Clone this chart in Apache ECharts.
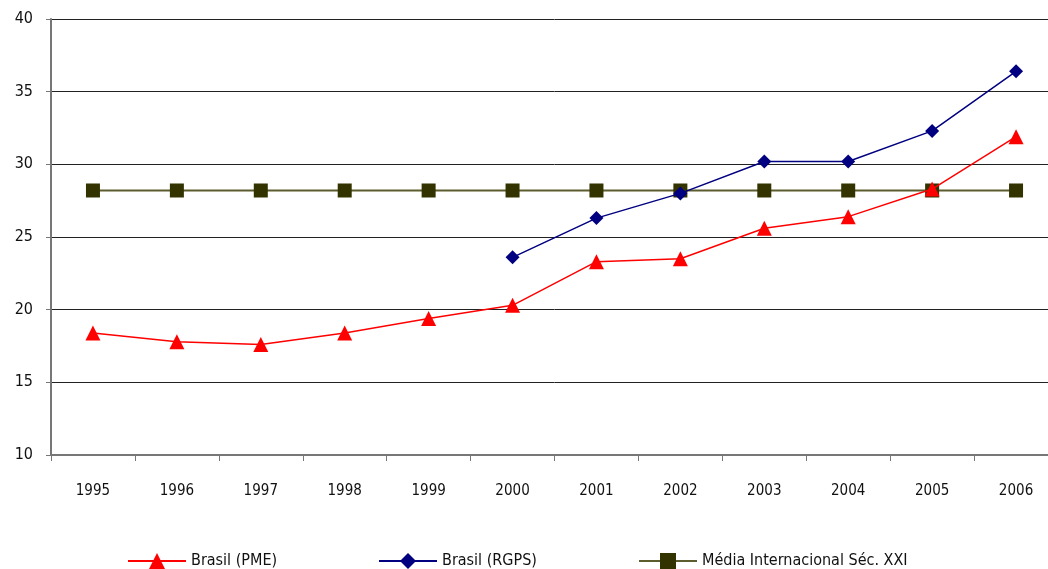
<!DOCTYPE html>
<html>
<head>
<meta charset="utf-8">
<script src="https://cdn.jsdelivr.net/npm/echarts@6/dist/echarts.min.js"></script>
<style>
  html, body { margin: 0; padding: 0; background: #fff; overflow: hidden; }
  /* plot area runs a little past the right edge, as in the original */
  #chart { width: 1058px; height: 569px; }
</style>
</head>
<body>
<div id="chart"></div>
<script>
// anos
const years = ['1995', '1996', '1997', '1998', '1999', '2000', '2001', '2002', '2003', '2004', '2005', '2006'];
// series
const pme = [18.4, 17.8, 17.6, 18.4, 19.4, 20.3, 23.3, 23.5, 25.6, 26.4, 28.3, 31.9];
const rgps = [null, null, null, null, null, 23.6, 26.3, 28.0, 30.2, 30.2, 32.3, 36.4];
const mediaIntl = [28.2, 28.2, 28.2, 28.2, 28.2, 28.2, 28.2, 28.2, 28.2, 28.2, 28.2, 28.2];
const names = ['Brasil (PME)', 'Brasil (RGPS)', 'Média Internacional Séc. XXI'];

const font = 'DejaVu Sans Condensed';
let chart = echarts.init(document.getElementById('chart'));

function legendAt(name, left) {
  return {
    data: [name],
    left: left,
    top: 548,
    itemWidth: 58,
    itemHeight: 20,
    itemGap: 10,
    textStyle: { fontFamily: font, fontSize: 16, color: '#111' }
  };
}

let option = {
  backgroundColor: '#fff',
  animation: false,
  legend: [
    legendAt(names[0], 122),
    legendAt(names[1], 373),
    legendAt(names[2], 633)
  ],
  grid: { left: 51, top: 19, right: 0, bottom: 114, containLabel: false },
  xAxis: {
    type: 'category',
    data: years,
    boundaryGap: true,
    axisLine: { lineStyle: { color: '#777', width: 2 } },
    axisTick: { show: true, length: 6, lineStyle: { color: '#777' } },
    axisLabel: { margin: 29, fontFamily: font, fontSize: 15, color: '#111' }
  },
  yAxis: {
    type: 'value',
    min: 10,
    max: 40,
    interval: 5,
    axisLine: { show: true, lineStyle: { color: '#777', width: 2 } },
    axisTick: { show: true, length: 5, lineStyle: { color: '#777' } },
    axisLabel: { margin: 18, fontFamily: font, fontSize: 16, color: '#111' },
    splitLine: { lineStyle: { color: '#222', width: 1 } }
  },
  series: [
    {
      name: names[0],
      type: 'line',
      data: pme,
      symbol: 'triangle',
      symbolSize: 15,
      itemStyle: { color: '#ff0000' },
      lineStyle: { color: '#ff0000', width: 1.5 },
      z: 4
    },
    {
      name: names[1],
      type: 'line',
      data: rgps,
      symbol: 'diamond',
      symbolSize: 14,
      itemStyle: { color: '#000080' },
      lineStyle: { color: '#000080', width: 1.5 },
      z: 3
    },
    {
      name: names[2],
      type: 'line',
      data: mediaIntl,
      symbol: 'rect',
      symbolSize: 14,
      itemStyle: { color: '#333300' },
      lineStyle: { color: '#5c5c2e', width: 2 },
      z: 2
    }
  ]
};

chart.setOption(option);
</script>
</body>
</html>
